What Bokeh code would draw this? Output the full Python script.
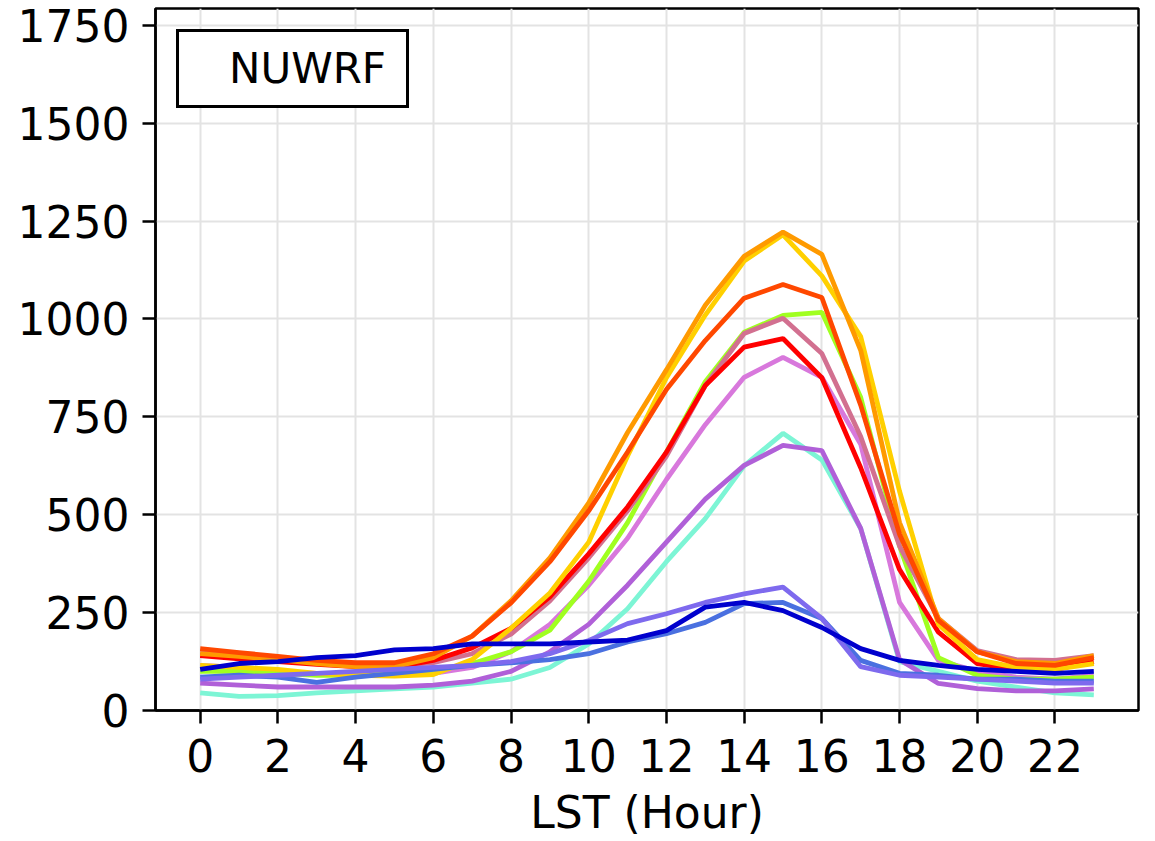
from bokeh.plotting import figure
from bokeh.models import Legend, LegendItem, FixedTicker, Range1d
from bokeh.embed import file_html
from bokeh.resources import INLINE

hours = list(range(24))

mediumorchid = [70, 65, 60, 60, 60, 60, 65, 75, 100, 150, 220, 320, 430, 540, 626, 677, 664, 465, 130, 69, 56, 50, 50, 55]
aquamarine = [45, 36, 38, 45, 50, 55, 60, 70, 80, 110, 170, 260, 380, 490, 625, 708, 640, 465, 125, 100, 75, 60, 45, 40]
orchid = [115, 110, 100, 95, 95, 95, 95, 110, 150, 220, 320, 440, 590, 730, 851, 902, 851, 680, 276, 128, 100, 85, 80, 90]
palevioletred = [150, 142, 132, 122, 116, 115, 122, 145, 195, 280, 390, 510, 650, 830, 963, 1002, 912, 700, 420, 235, 153, 130, 128, 140]
greenyellow = [100, 100, 95, 90, 90, 95, 100, 120, 150, 205, 330, 480, 660, 840, 966, 1009, 1017, 800, 420, 135, 90, 80, 80, 85]
red = [140, 132, 125, 118, 112, 110, 128, 160, 210, 290, 400, 520, 660, 830, 928, 950, 850, 620, 360, 200, 120, 105, 105, 125]
gold = [115, 110, 105, 95, 90, 88, 92, 130, 210, 300, 430, 650, 850, 1010, 1148, 1215, 1110, 955, 560, 220, 130, 110, 105, 120]
orange = [145, 138, 130, 120, 112, 112, 135, 190, 280, 390, 530, 710, 870, 1035, 1160, 1222, 1165, 920, 480, 235, 150, 125, 120, 140]
orangered = [158, 148, 138, 128, 122, 122, 145, 190, 275, 380, 510, 660, 820, 945, 1053, 1088, 1055, 780, 450, 230, 150, 120, 115, 135]
royalblue = [85, 90, 85, 72, 85, 95, 105, 115, 122, 130, 145, 175, 196, 225, 273, 276, 235, 128, 95, 90, 80, 80, 75, 75]
mediumslateblue = [80, 85, 90, 95, 100, 105, 110, 115, 125, 145, 179, 222, 247, 276, 298, 315, 235, 112, 90, 85, 80, 75, 70, 70]
mediumblue = [105, 120, 125, 135, 140, 155, 158, 170, 170, 170, 175, 180, 204, 264, 276, 255, 212, 158, 128, 115, 105, 100, 95, 100]

series = [
    (aquamarine, "#7DF5D5"),
    (mediumorchid, "#B060D8"),
    (orchid, "#D878DC"),
    (greenyellow, "#A0FF20"),
    (palevioletred, "#D27090"),
    (red, "#FF0000"),
    (gold, "#FFD000"),
    (orange, "#FF9A00"),
    (orangered, "#FF4800"),
    (royalblue, "#4A70E0"),
    (mediumslateblue, "#7E6AEE"),
    (mediumblue, "#0000CD"),
]

xticks = list(range(0, 23, 2))
yticks = [0, 250, 500, 750, 1000, 1250, 1500, 1750]

FONT = "DejaVu Sans"
FS = "44px"

p = figure(width=1150, height=841, output_backend="svg", toolbar_location=None,
           x_range=Range1d(-1.15, 24.15), y_range=Range1d(0, 1793),
           min_border_left=155, min_border_right=12, min_border_top=8, min_border_bottom=131)

for vals, col in series:
    p.line(hours, vals, line_color=col, line_width=4.8)

dummy = p.line(hours, mediumblue, line_alpha=0, line_width=0)
legend = Legend(items=[LegendItem(label="NUWRF", renderers=[dummy])], location="top_left")
legend.margin = 21
legend.padding = 12
legend.glyph_width = 32
legend.label_standoff = 6
legend.label_width = 165
legend.spacing = 0
legend.border_line_color = "black"
legend.border_line_alpha = 1
legend.border_line_width = 3
legend.label_text_font = FONT
legend.label_text_font_size = "42px"
legend.label_text_color = "black"
legend.background_fill_color = "white"
legend.background_fill_alpha = 1
p.add_layout(legend)

p.xaxis.ticker = FixedTicker(ticks=xticks)
p.yaxis.ticker = FixedTicker(ticks=yticks)
p.xgrid.ticker = FixedTicker(ticks=xticks)
p.ygrid.ticker = FixedTicker(ticks=yticks)
p.grid.grid_line_color = "#e3e3e3"
p.grid.grid_line_width = 2

for ax in (p.xaxis, p.yaxis):
    ax.axis_line_color = "black"
    ax.axis_line_width = 2.5
    ax.major_tick_line_color = "black"
    ax.major_tick_line_width = 2.5
    ax.major_tick_out = 13
    ax.major_tick_in = 0
    ax.minor_tick_line_color = None
    ax.major_label_text_font = FONT
    ax.major_label_text_font_size = FS
    ax.major_label_text_color = "black"
    ax.major_label_text_line_height = 1.0
    ax.axis_label_text_font = FONT
    ax.axis_label_text_font_size = FS
    ax.axis_label_text_font_style = "normal"
    ax.axis_label_text_color = "black"
    ax.axis_label_text_line_height = 1.0

p.xaxis.major_label_standoff = 15
p.yaxis.major_label_standoff = 13
p.xaxis.axis_label = "LST (Hour)"
p.xaxis.axis_label_standoff = 12

p.outline_line_color = "black"
p.outline_line_width = 2.5
p.outline_line_alpha = 1
p.background_fill_color = "white"
p.border_fill_color = "white"

open("out.html", "w").write(file_html(p, INLINE))
